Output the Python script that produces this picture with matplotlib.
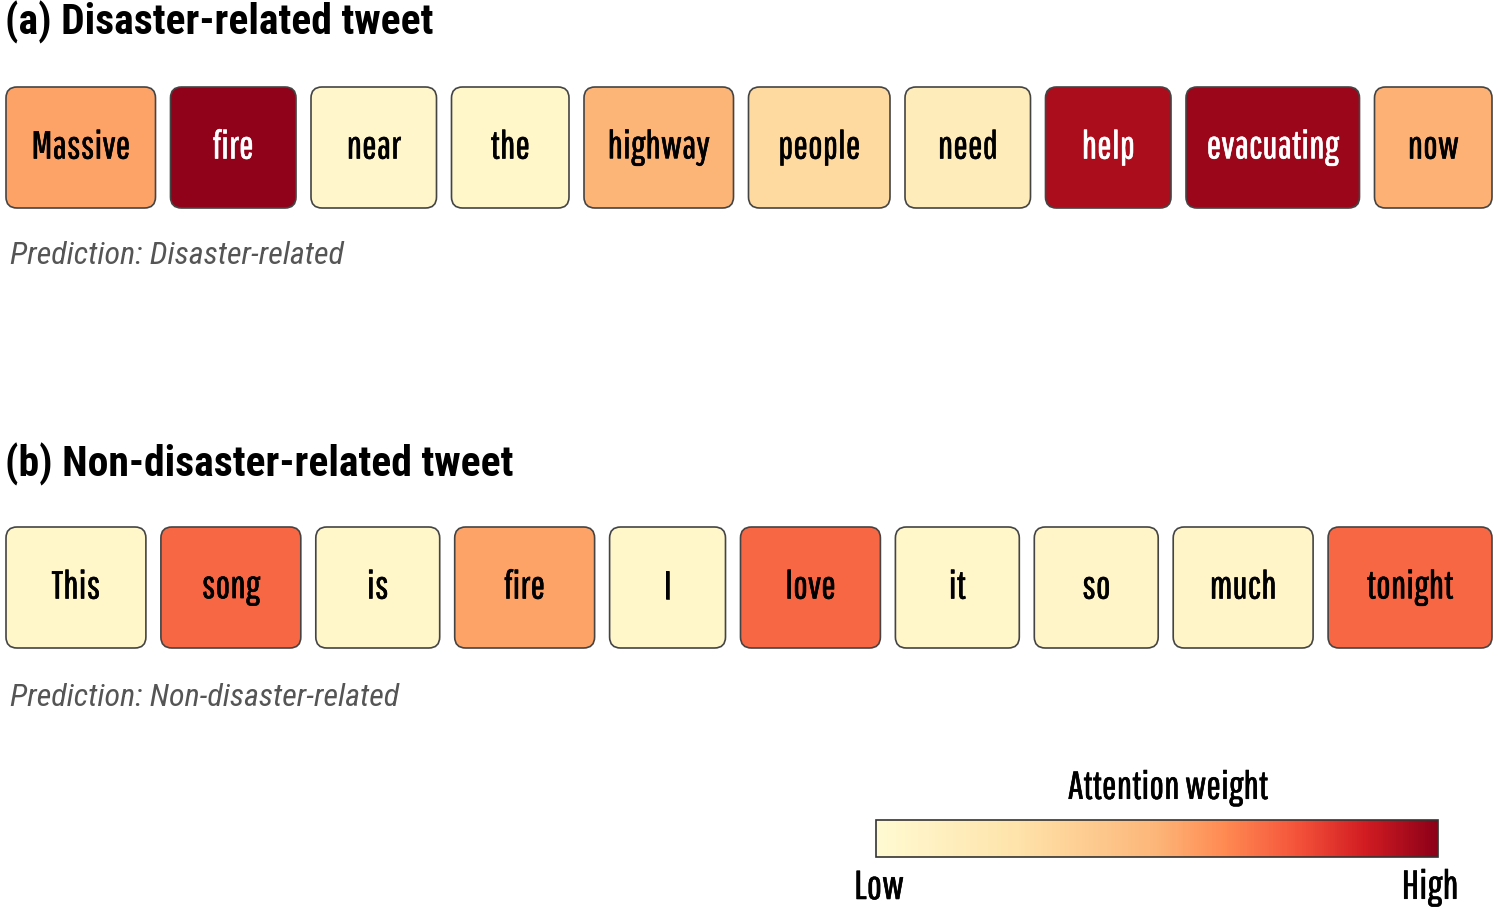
import numpy as np
import matplotlib.pyplot as plt
import matplotlib.patheffects as pe
from matplotlib.colors import LinearSegmentedColormap, Normalize
from matplotlib.cm import ScalarMappable
from matplotlib.patches import FancyBboxPatch

# Tokens and attention weights (0 = low, 1 = high)
words_a = ["Massive", "fire", "near", "the", "highway", "people", "need", "help", "evacuating", "now"]
attn_a = [0.55, 0.99, 0.04, 0.05, 0.50, 0.30, 0.15, 0.94, 0.97, 0.51]

words_b = ["This", "song", "is", "fire", "I", "love", "it", "so", "much", "tonight"]
attn_b = [0.05, 0.70, 0.05, 0.55, 0.05, 0.70, 0.05, 0.06, 0.06, 0.70]

titles = ["(a) Disaster-related tweet", "(b) Non-disaster-related tweet"]
predictions = ["Prediction: Disaster-related", "Prediction: Non-disaster-related"]

cmap = LinearSegmentedColormap.from_list(
    "attn", [(0.0, "#fffad2"), (0.25, "#fee3aa"), (0.5, "#fdb578"), (0.62, "#ff8a52"),
             (0.75, "#f4533a"), (0.87, "#d21c22"), (1.0, "#8c0018")])

NARROW = ["Pathway Gothic One", "Roboto Condensed", "DejaVu Sans"]
COND = ["Roboto Condensed", "DejaVu Sans"]

fig = plt.figure(figsize=(15, 9.16), dpi=100)
ax = fig.add_axes([0, 0, 1, 1])
ax.set_xlim(0, 1500)
ax.set_ylim(916, 0)
ax.axis("off")


def heavy(color):
    # thicken the thin narrow face a touch
    return [pe.withStroke(linewidth=0.4, foreground=color)]


def draw_row(words, weights, title, pred, y_title, y_box, y_pred):
    ax.text(5, y_title, title, fontsize=30, fontweight="bold", va="center", ha="left",
            family=COND)
    left, right, gap, h = 6, 1492, 15, 121
    per_char = 8
    lens = np.array([len(w) for w in words])
    base = (right - left - gap * (len(words) - 1) - per_char * lens.sum()) / len(words)
    widths = base + per_char * lens
    x = left
    for w, a, bw in zip(words, weights, widths):
        box = FancyBboxPatch((x, y_box), bw, h, boxstyle="round,pad=0,rounding_size=11",
                             facecolor=cmap(a), edgecolor="#444444", linewidth=1.2)
        ax.add_patch(box)
        tc = "white" if a > 0.8 else "black"
        ax.text(x + bw / 2, y_box + h / 2, w, fontsize=28, ha="center", va="center",
                color=tc, family=NARROW, path_effects=heavy(tc))
        x += bw + gap
    ax.text(10, y_pred, pred, fontsize=23, style="italic", color="#555555",
            ha="left", va="center", family=COND)


draw_row(words_a, attn_a, titles[0], predictions[0], 22, 87, 255)
draw_row(words_b, attn_b, titles[1], predictions[1], 464, 527, 698)

# Colorbar
cax = fig.add_axes([876 / 1500, 1 - 857 / 916, 562 / 1500, 37 / 916])
cb = fig.colorbar(ScalarMappable(norm=Normalize(0, 1), cmap=cmap), cax=cax, orientation="horizontal")
cb.set_ticks([])
cb.outline.set_edgecolor("#333333")
cb.outline.set_linewidth(1.2)
ax.text(1168, 788, "Attention weight", fontsize=28, ha="center", va="center",
        family=NARROW, path_effects=heavy("black"))
ax.text(879, 888, "Low", fontsize=29, ha="center", va="center",
        family=NARROW, path_effects=heavy("black"))
ax.text(1430, 888, "High", fontsize=29, ha="center", va="center",
        family=NARROW, path_effects=heavy("black"))

fig.savefig("out.png", dpi=100)
